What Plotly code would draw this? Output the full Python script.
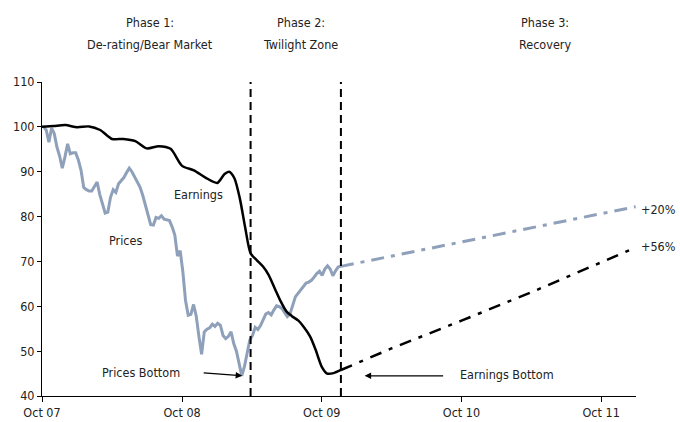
import pandas as pd
import plotly.graph_objects as go

# ---------------- data ----------------
price_start = "2007-10-05"
prices = [100, 99.3, 96.6, 99.7, 98.5, 95.5, 93.5, 90.8, 93.3, 96.2,
          94.0, 94.2, 94.2, 92.6, 90.3, 86.5, 86.0, 85.7, 85.7, 86.6,
          87.7, 84.9, 83.0, 80.8, 81.0, 84.3, 86.0, 85.4, 87.3, 87.9,
          88.7, 89.8, 90.8, 90.0, 88.9, 88.0, 86.6, 84.8, 82.6, 80.4,
          78.2, 78.1, 79.8, 79.6, 80.2, 79.4, 79.2, 79.1, 77.7, 75.9,
          71.2, 72.4, 67.7, 61.3, 58.0, 58.2, 60.4, 57.8, 53.3, 49.3,
          54.3, 54.9, 55.2, 56.0, 55.5, 56.2, 55.8, 53.5, 52.8, 53.3,
          54.3, 51.7, 50.0, 47.5, 44.5, 46.6, 49.7, 52.5, 53.5, 55.3,
          54.8, 55.7, 57.0, 58.3, 58.6, 58.1, 59.2, 60.1, 59.9, 59.5,
          58.6, 57.7, 58.3, 60.0, 62.1, 62.9, 63.7, 64.5, 65.2, 65.4,
          65.8, 66.5, 67.3, 67.8, 66.9, 68.3, 69.0, 68.3, 66.8, 67.9,
          68.8, 68.9]
price_dates = pd.date_range(price_start, periods=len(prices), freq="7D")

earn_dates = ["2007-10-01", "2007-11-01", "2007-12-01", "2008-01-01", "2008-02-01",
              "2008-03-01", "2008-04-01", "2008-05-01", "2008-06-01", "2008-07-01",
              "2008-08-01", "2008-09-01", "2008-10-01", "2008-11-01", "2008-12-01",
              "2009-01-01", "2009-01-20", "2009-02-01", "2009-02-15", "2009-03-01",
              "2009-03-15", "2009-03-29", "2009-04-15", "2009-05-01", "2009-05-15",
              "2009-06-01", "2009-06-15", "2009-07-01", "2009-07-15", "2009-08-01",
              "2009-08-15", "2009-09-01", "2009-09-15", "2009-10-01", "2009-10-15",
              "2009-11-01", "2009-11-20"]
earnings = [100, 100.2, 100.4, 99.9, 100.1,
            99.3, 97.3, 97.3, 96.8, 95.2,
            95.7, 95.1, 91.3, 90.3, 88.7,
            87.5, 89.5, 90.0, 88.5, 84.0,
            77.5, 71.8, 70.2, 68.8, 67.0,
            63.8, 61.2, 58.8, 57.8, 56.8,
            55.4, 53.2, 50.3, 46.5, 45.0,
            45.1, 45.8]

proj_price_dates = ["2009-11-20", "2011-12-30"]
proj_prices = [68.9, 82.2]

proj_earn_dates = ["2009-11-20", "2010-04-01", "2010-10-01", "2011-04-01", "2011-10-01", "2011-12-30"]
proj_earnings = [45.8, 50.6, 56.8, 63.1, 69.8, 73.1]

tick_dates = ["2007-10-01", "2008-10-01", "2009-10-01", "2010-10-01", "2011-10-01"]
tick_labels = ["Oct 07", "Oct 08", "Oct 09", "Oct 10", "Oct 11"]

phase_dates = ["2009-03-29", "2009-11-20"]
phase_titles = ["Phase 1:", "Phase 2:", "Phase 3:"]
phase_names = ["De-rating/Bear Market", "Twilight Zone", "Recovery"]
phase_label_x = ["2008-07-08", "2009-08-07", "2011-05-08"]

# ---------------- styling ----------------
FONT = "Liberation Sans Narrow, DejaVu Sans Condensed, Arial Narrow, sans-serif"
GREY = "#8FA0BA"
TXT = "#222222"

fig = go.Figure()
fig.add_trace(go.Scatter(x=price_dates, y=prices, mode="lines",
                         line=dict(color=GREY, width=3), name="Prices"))
fig.add_trace(go.Scatter(x=proj_price_dates, y=proj_prices, mode="lines",
                         line=dict(color=GREY, width=3, dash="13px,7px,4px,7px"),
                         name="Prices proj"))
fig.add_trace(go.Scatter(x=earn_dates, y=earnings, mode="lines",
                         line=dict(color="black", width=2.5, shape="spline", smoothing=0.7),
                         name="Earnings"))
fig.add_trace(go.Scatter(x=proj_earn_dates, y=proj_earnings, mode="lines",
                         line=dict(color="black", width=2.5, dash="12px,8px,4px,8px"),
                         name="Earnings proj"))

for d in phase_dates:
    fig.add_shape(type="line", x0=d, x1=d, y0=40, y1=110, xref="x", yref="y",
                  line=dict(color="black", width=2, dash="8px,5px"))

ann = []
for xd, t, n in zip(phase_label_x, phase_titles, phase_names):
    ann.append(dict(x=xd, xref="x", y=1.191, yref="paper", text=t, showarrow=False,
                    xanchor="center", yanchor="middle", font=dict(size=12.5, color=TXT, family=FONT)))
    ann.append(dict(x=xd, xref="x", y=1.121, yref="paper", text=n, showarrow=False,
                    xanchor="center", yanchor="middle", font=dict(size=12.5, color=TXT, family=FONT)))

ann += [
    dict(x="2008-11-12", y=85, text="Earnings", showarrow=False, font=dict(size=12.5, color=TXT, family=FONT)),
    dict(x="2008-05-07", y=74.7, text="Prices", showarrow=False, font=dict(size=12.5, color=TXT, family=FONT)),
    dict(x="2008-06-15", y=45.3, text="Prices Bottom", showarrow=False, font=dict(size=12.5, color=TXT, family=FONT)),
    dict(x="2009-03-07", y=44.5, text="", showarrow=True, ax=-40, ay=-3,
         arrowhead=2, arrowsize=1, arrowwidth=1.3, arrowcolor="black"),
    dict(x="2010-09-23", y=44.7, text="Earnings Bottom", showarrow=False, xanchor="left",
         font=dict(size=12.5, color=TXT, family=FONT)),
    dict(x="2010-01-21", y=44.5, text="", showarrow=True, ax=80, ay=0,
         arrowhead=2, arrowsize=1, arrowwidth=1.3, arrowcolor="black"),
    dict(x=1.005, xref="paper", y=81.6, text="+20%", showarrow=False, xanchor="left",
         font=dict(size=12.5, color=TXT, family=FONT)),
    dict(x=1.005, xref="paper", y=73.4, text="+56%", showarrow=False, xanchor="left",
         font=dict(size=12.5, color=TXT, family=FONT)),
]

fig.update_layout(
    width=680, height=422,
    margin=dict(l=42, r=44, t=82, b=26),
    paper_bgcolor="white", plot_bgcolor="white",
    showlegend=False,
    font=dict(family=FONT, size=12.5, color=TXT),
    annotations=ann,
    xaxis=dict(type="date", range=["2007-10-01", "2011-12-31"],
               tickvals=tick_dates, ticktext=tick_labels, automargin=False,
               showgrid=False, zeroline=False, showline=True, linecolor="black", linewidth=1,
               ticks="outside", ticklen=5, tickcolor="black", tickwidth=1),
    yaxis=dict(range=[40, 110], dtick=10, tick0=40, automargin=False,
               showgrid=False, zeroline=False, showline=True, linecolor="black", linewidth=1,
               ticks="outside", ticklen=4, tickcolor="black", tickwidth=1),
)

fig.write_html("out.html", config={"displayModeBar": False},
               post_script="document.body.style.margin='0';document.body.style.overflow='hidden';")
